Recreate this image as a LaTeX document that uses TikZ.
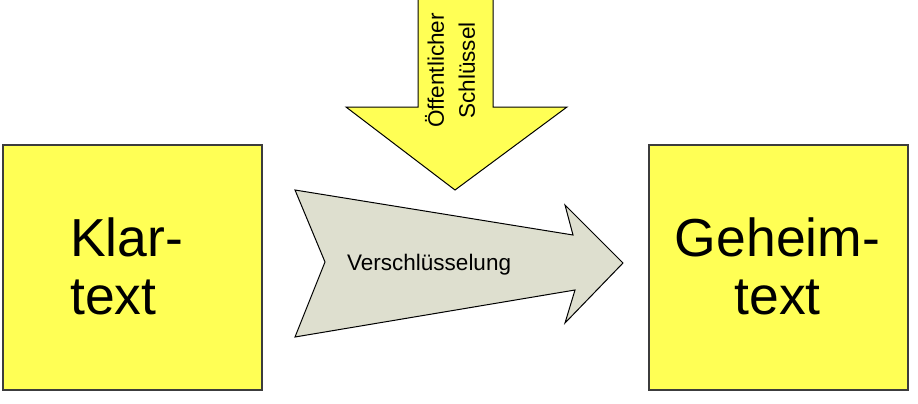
\documentclass[tikz,border=0pt]{standalone}
\usepackage{fontspec}
\setmainfont{Liberation Sans}
\definecolor{boxyellow}{RGB}{255,255,85}
\definecolor{arrowgray}{RGB}{222,223,207}
\definecolor{boxline}{RGB}{60,60,60}
\tikzset{
  textbox/.style={draw=boxline, line width=1.4pt, fill=boxyellow, minimum width=259pt, minimum height=245pt, inner sep=0pt},
  bigtext/.style={font=\fontsize{53.5}{58}\selectfont, inner sep=0pt},
  smalltext/.style={font=\fontsize{22.5}{31}\selectfont, inner sep=0pt},
  arrowshape/.style={draw=black, line width=1pt, line join=miter}
}
\begin{document}
\begin{tikzpicture}[x=1pt,y=-1pt]
\useasboundingbox (0,0) rectangle (918,404);
% boxes
\node[textbox] (klar) at (132.5,267.5) {};
\node[textbox] (geheim) at (778.5,267.5) {};
\node[bigtext, align=left, anchor=west] (klartext) at (70,266.5) {Klar-\\text};
\node[bigtext, align=center] (geheimtext) at (777.5,266.5) {Geheim-\\text};
% key arrow
\coordinate (k1) at (418,-2);
\coordinate (k2) at (493,-2);
\coordinate (k3) at (493,107);
\coordinate (k4) at (567,107);
\coordinate (k5) at (455,190);
\coordinate (k6) at (346,107);
\coordinate (k7) at (418,107);
\filldraw[arrowshape, fill=boxyellow] (k1) -- (k2) -- (k3) -- (k4) -- (k5) -- (k6) -- (k7) -- cycle;
\node[smalltext, rotate=90, align=center] (key) at (450,70.5) {Öffentlicher\\Schlüssel};
% encryption arrow
\coordinate (v1) at (295,190);
\coordinate (v2) at (573,235);
\coordinate (v3) at (565,205);
\coordinate (v4) at (623,263);
\coordinate (v5) at (565,323);
\coordinate (v6) at (575,290);
\coordinate (v7) at (295,337);
\coordinate (v8) at (325,262);
\filldraw[arrowshape, fill=arrowgray] (v1) -- (v2) -- (v3) -- (v4) -- (v5) -- (v6) -- (v7) -- (v8) -- cycle;
\node[smalltext, anchor=base west] (verschl) at (347,270) {Verschlüsselung};
\end{tikzpicture}
\end{document}
